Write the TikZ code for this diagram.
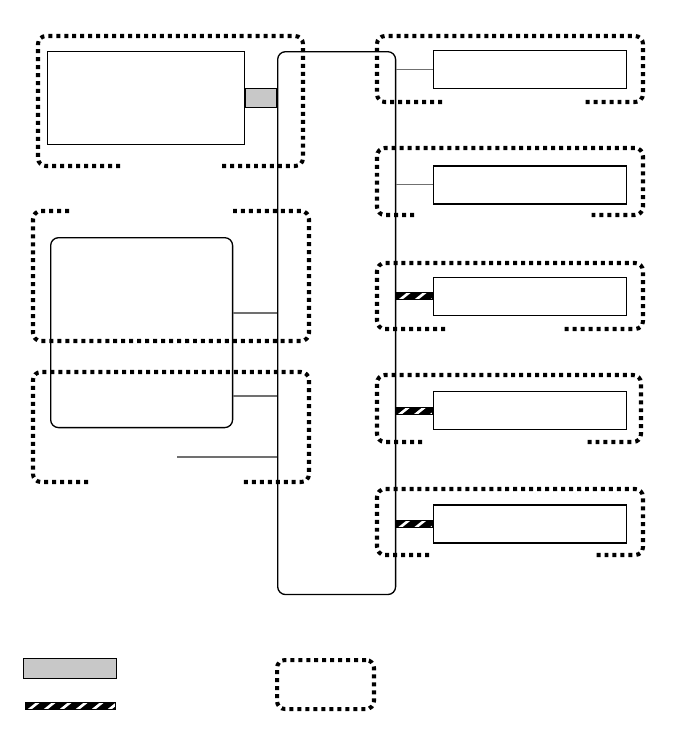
\documentclass[tikz,border=0pt]{standalone}
\usetikzlibrary{positioning, calc}
\definecolor{DGshade}{HTML}{C8C8C8}
\definecolor{DGlink}{HTML}{707070}
\tikzset{
  dgbox/.style={rectangle, draw=black, line width=0.75pt, fill=white,
    inner sep=0pt, anchor=north west},
  dgblock/.style={dgbox, rounded corners=4.5pt},
  dggrp/.style={draw=black, line width=2.3pt, dash pattern=on 2.27pt off 2.27pt,
    rounded corners=4.5pt},
  dglink/.style={draw=DGlink, line width=0.6pt},
  dgshade/.style={draw=black, line width=0.6pt, fill=DGshade},
  dgstripe/.style={rectangle, draw=black, line width=0.4pt, fill=black,
    inner sep=0pt, minimum height=0.14cm,
    path picture={
      \foreach \k in {0,...,6}
        \draw[white, line width=1.5pt]
          ([xshift=\k*0.32cm+0.02cm, yshift=-0.05cm]path picture bounding box.south west)
          -- ++(0.3cm,0.24cm);
    }},
}
\begin{document}
\begin{tikzpicture}[x=0.02cm, y=-0.02cm]
  \useasboundingbox (0,0) rectangle (688,755);
  %% Bus
  \node[dgblock, rounded corners=4.5pt, minimum width=2.36cm, minimum height=10.86cm] (bus) at (277,51) {};
  %% Left side
  \node[dgbox, minimum width=3.94cm, minimum height=1.86cm] (top) at (47,51) {};
  \node[dgblock, minimum width=3.64cm, minimum height=3.8cm] (mid) at (50,237) {};
  \coordinate (tail) at (177,457);
  %% Right side
  \node[dgbox, minimum width=3.86cm, minimum height=0.76cm] (r1) at (433,50) {};
  \node[dgbox, minimum width=3.86cm, minimum height=0.76cm, below=1.52cm of r1] (r2) {};
  \node[dgbox, minimum width=3.86cm, minimum height=0.76cm, below=1.44cm of r2] (r3) {};
  \node[dgbox, minimum width=3.86cm, minimum height=0.76cm, below=1.5cm of r3] (r4) {};
  \node[dgbox, minimum width=3.86cm, minimum height=0.76cm, below=1.48cm of r4] (r5) {};
  %% Links to the bus
  \path[dgshade] ([yshift=0.19cm]top.east) rectangle ([yshift=-0.19cm]bus.west |- top.east);
  \draw[dglink] (mid.east |- 0,313) -- (bus.west |- 0,313);
  \draw[dglink] (mid.east |- 0,396) -- (bus.west |- 0,396);
  \draw[dglink] (tail) -- (bus.west |- tail);
  \draw[dglink] (bus.east |- r1.west) -- (r1.west);
  \draw[dglink] (bus.east |- r2.west) -- (r2.west);
  \foreach \r in {r3, r4, r5}
    \path let \p1 = (bus.east), \p2 = (\r.west) in
      node[dgstripe, minimum width=\x2-\x1, anchor=east] (s\r) at (\r.west) {};
  %% Groups
  \draw[dggrp] (120,166) -- (38,166) -- (38,36) -- (303,36) -- (303,166) -- (219,166);
  \draw[dggrp] (69,211) -- (33,211) -- (33,341) -- (309,341) -- (309,211) -- (233,211);
  \draw[dggrp] (88,482) -- (33,482) -- (33,372) -- (309,372) -- (309,482) -- (243,482);
  \draw[dggrp] (442,102) -- (377,102) -- (377,36) -- (643,36) -- (643,102) -- (585,102);
  \draw[dggrp] (414,215) -- (377,215) -- (377,148) -- (643,148) -- (643,215) -- (590,215);
  \draw[dggrp] (445,329) -- (377,329) -- (377,263) -- (643,263) -- (643,329) -- (564,329);
  \draw[dggrp] (422,442) -- (377,442) -- (377,375) -- (641,375) -- (641,442) -- (585,442);
  \draw[dggrp] (429,555) -- (377,555) -- (377,489) -- (643,489) -- (643,555) -- (593,555);
  %% Legend
  \node[dgbox, dgshade, line width=0.75pt, minimum width=1.86cm, minimum height=0.4cm] (keyshade) at (23,658) {};
  \node[dgstripe, anchor=north west, minimum width=1.8cm] (keystripe) at (25,702) {};
  \node[dggrp, anchor=north west, minimum width=1.94cm, minimum height=0.98cm, inner sep=0pt] (keygrp) at (275,658) {};
\end{tikzpicture}
\end{document}
